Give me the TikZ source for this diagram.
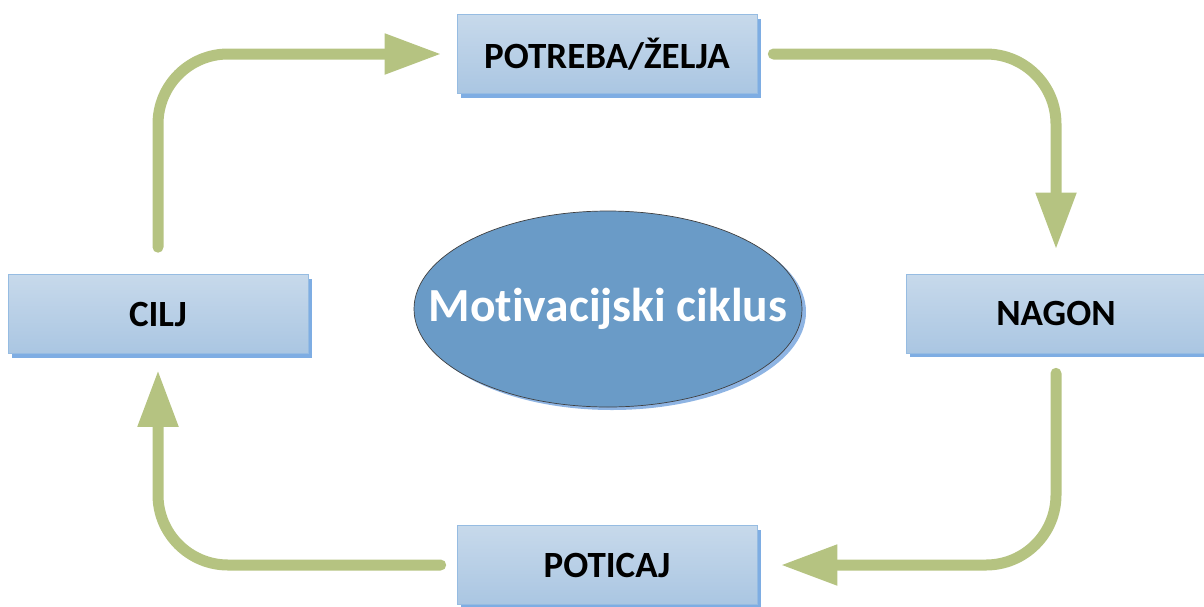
\documentclass[tikz,border=0pt]{standalone}
\usepackage{fontspec}
\setmainfont{Carlito}[Ligatures={NoCommon,NoContextual}]
\usetikzlibrary{arrows.meta,shapes.geometric,shadows}
\definecolor{boxtop}{RGB}{199,217,235}
\definecolor{boxbot}{RGB}{170,198,226}
\definecolor{boxline}{RGB}{150,188,226}
\definecolor{boxshadow}{RGB}{126,173,227}
\definecolor{ellfill}{RGB}{106,155,199}
\definecolor{ellshadow}{RGB}{142,180,227}
\definecolor{flowgreen}{RGB}{181,195,129}
\tikzset{
  stagebox/.style={rectangle, minimum width=300pt, minimum height=79pt, inner sep=0pt,
    top color=boxtop, bottom color=boxbot, draw=boxline, line width=0.6pt,
    general shadow={fill=boxshadow, shadow xshift=4pt, shadow yshift=-4pt},
    font=\bfseries\fontsize{37}{42}\selectfont, text=black},
  centre/.style={ellipse, minimum width=388pt, minimum height=196pt, inner sep=0pt,
    fill=ellfill, draw=black!75, line width=0.7pt,
    general shadow={fill=ellshadow, shadow xshift=4pt, shadow yshift=-3pt},
    font=\bfseries\fontsize{47.5}{54}\selectfont, text=white},
  flow/.style={draw=flowgreen, line width=11pt, line cap=round,
    -{Triangle[length=57pt,width=38pt,sharp]}, fill=none}
}
\begin{document}
\begin{tikzpicture}[x=1pt,y=-1pt]
\useasboundingbox (0,0) rectangle (1204,606);
\node[stagebox] (potreba) at (607,54) {POTREBA/ŽELJA};
\node[stagebox] (cilj) at (158,314) {CILJ};
\node[stagebox] (nagon) at (1056,313.5) {NAGON};
\node[stagebox] (poticaj) at (607,565) {POTICAJ};
\node[centre] (ciklus) at (608,309) {\makebox[0pt]{Motivacijski ciklus}};
\draw[flow, shorten <=27pt, shorten >=15pt] (cilj.north) {[rounded corners=70pt] |- (potreba.west)};
\draw[flow, shorten <=16pt, shorten >=24pt] (potreba.east) {[rounded corners=70pt] -| (nagon.north)};
\draw[flow, shorten <=20pt, shorten >=23pt] (nagon.south) {[rounded corners=70pt] |- (poticaj.east)};
\draw[flow, shorten <=16pt, shorten >=16pt] (poticaj.west) {[rounded corners=70pt] -| (cilj.south)};
\end{tikzpicture}
\end{document}
